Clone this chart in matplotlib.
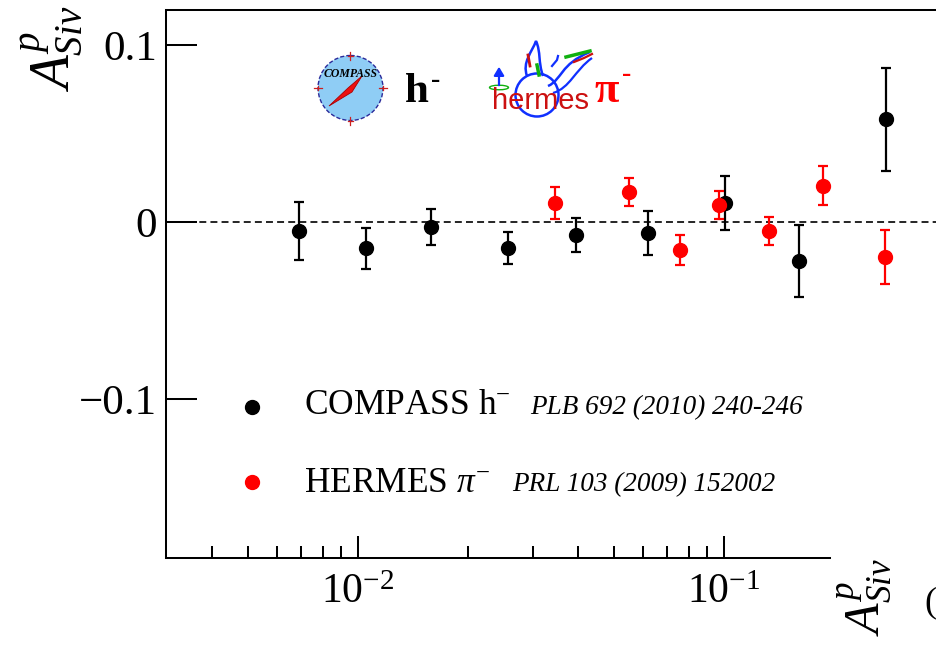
import matplotlib
matplotlib.use("Agg")
import matplotlib.pyplot as plt
from matplotlib.patches import Circle, Polygon, Ellipse, PathPatch
from matplotlib.path import Path
from matplotlib.ticker import FixedLocator, NullFormatter, LogFormatterSciNotation

plt.rcParams['font.family'] = ['Liberation Serif', 'DejaVu Serif']
plt.rcParams['mathtext.fontset'] = 'custom'
plt.rcParams['mathtext.rm'] = 'Liberation Serif'
plt.rcParams['mathtext.it'] = 'Liberation Serif:italic'
plt.rcParams['mathtext.bf'] = 'Liberation Serif:bold'
plt.rcParams['lines.scale_dashes'] = False

# Sivers asymmetry on a proton target vs x
compass_x = [0.0069, 0.0105, 0.0158, 0.0257, 0.0393, 0.0621, 0.1006, 0.1605, 0.278]
compass_y = [-0.0049, -0.0149, -0.0027, -0.0145, -0.0074, -0.0061, 0.0109, -0.0221, 0.0583]
compass_err = [0.0163, 0.0114, 0.0104, 0.0091, 0.0096, 0.0123, 0.0154, 0.0205, 0.0291]

hermes_x = [0.0345, 0.055, 0.0758, 0.0969, 0.1324, 0.1865, 0.275]
hermes_y = [0.0109, 0.0170, -0.0158, 0.0096, -0.0049, 0.0205, -0.0196]
hermes_err = [0.0091, 0.0080, 0.0086, 0.0080, 0.0078, 0.0110, 0.0152]

y_ticks = [-0.1, 0.0, 0.1]
y_tick_labels = ['\u22120.1', '0', '0.1']
x_major_ticks = [0.01, 0.1]
x_minor_ticks = [0.004, 0.005, 0.006, 0.007, 0.008, 0.009,
                 0.02, 0.03, 0.04, 0.05, 0.06, 0.07, 0.08, 0.09]

W, H = 937, 647
fig = plt.figure(figsize=(W / 100, H / 100), dpi=100)
ax = fig.add_axes([165.7 / W, 1 - 558 / H, (W - 165.7) / W, (558 - 10) / H])
ax.set_xscale('log')
ax.set_xlim(0.00298, 0.382)
ax.set_ylim(-0.190, 0.120)

for s in ax.spines.values():
    s.set_linewidth(1.45)
ax.spines['right'].set_visible(False)
ax.spines['bottom'].set_bounds(0.00298, 0.195)

ax.xaxis.set_major_locator(FixedLocator(x_major_ticks))
ax.xaxis.set_minor_locator(FixedLocator(x_minor_ticks))
ax.xaxis.set_major_formatter(LogFormatterSciNotation())
ax.xaxis.set_minor_formatter(NullFormatter())
ax.set_yticks(y_ticks)
ax.set_yticklabels(y_tick_labels)
ax.tick_params(axis='x', which='major', direction='in', length=16, width=1.45,
               labelsize=30, pad=11, top=False)
ax.tick_params(axis='x', which='minor', direction='in', length=8.6, width=1.45, top=False)
ax.tick_params(axis='y', which='major', direction='in', length=22, width=1.45,
               labelsize=31, pad=6, right=False)
ax.tick_params(axis='y', which='minor', left=False, right=False)

ax.axhline(0.0, color='black', lw=1.2, dashes=(5, 3), zorder=1)

ax.errorbar(compass_x, compass_y, yerr=compass_err, fmt='o', color='black',
            ms=10, elinewidth=1.6, capsize=3.8, capthick=1.6, zorder=3)
ax.errorbar(hermes_x, hermes_y, yerr=hermes_err, fmt='o', color='#ff0000',
            ms=10, elinewidth=1.6, capsize=3.8, capthick=1.6, zorder=4)

# y-axis title and the neighbouring panel's title at the bottom right
fig.text(52 / W, 1 - 6 / H, r'$A^{p}_{Siv}$', rotation=90, ha='center', va='top', fontsize=40)
fig.text(864 / W, 1 - 558 / H, r'$A^{p}_{Siv}$', rotation=90, ha='center', va='top', fontsize=36)
fig.text(936 / W, 1 - 603 / H, '(', ha='right', va='center', fontsize=26)

# overlay in pixel coordinates for logos and legend
ov = fig.add_axes([0, 0, 1, 1], zorder=5)
ov.set_xlim(0, W)
ov.set_ylim(H, 0)
ov.axis('off')

# COMPASS logo
ov.add_patch(Circle((350.5, 88), 32.5, facecolor='#8fcdf5', edgecolor='#2a2a9a',
                    lw=1.0, ls=(0, (3, 1.5))))
for (cx, cy, dx, dy) in [(350.5, 55.5, 0, 4), (350.5, 120.5, 0, 4),
                         (318, 88, 4, 0), (383, 88, 4, 0)]:
    ov.plot([cx - dx, cx + dx], [cy - dy, cy + dy], color='#cc2020', lw=0.9)
    ov.plot([cx - dy * 0.6, cx + dy * 0.6], [cy - dx * 0.6, cy + dx * 0.6], color='#cc2020', lw=0.9)
ov.add_patch(Polygon([(329, 106), (348, 88), (362, 76), (352, 92)],
                     closed=True, facecolor='#ee1010', edgecolor='#aa0000', lw=0.6))
ov.text(350.5, 74, 'COMPASS', ha='center', va='center', fontsize=8.5,
        fontstyle='italic', fontweight='bold', color='black')
ov.text(405, 102, 'h', ha='left', va='baseline', fontsize=31, fontweight='bold', color='black')
ov.text(436, 80, '-', ha='center', va='center', fontsize=20, fontweight='bold', color='black')

# HERMES logo
ov.add_patch(Circle((537, 95), 21.5, facecolor='none', edgecolor='#1030ff', lw=1.8))
wing_l = Path([(527, 76), (522, 62), (532, 52), (536, 41),
               (541, 52), (538, 62), (543, 76)],
              [Path.MOVETO, Path.CURVE4, Path.CURVE4, Path.CURVE4,
               Path.CURVE4, Path.CURVE4, Path.CURVE4])
ov.add_patch(PathPatch(wing_l, facecolor='none', edgecolor='#1030ff', lw=1.8))
ov.plot([528, 530], [55, 66], color='#cc1010', lw=2.0)
ov.plot([537, 539], [65, 75], color='#10b010', lw=2.5)
wing_r = Path([(548, 86), (562, 80), (560, 64), (590, 52)],
              [Path.MOVETO, Path.CURVE4, Path.CURVE4, Path.CURVE4])
ov.add_patch(PathPatch(wing_r, facecolor='none', edgecolor='#1030ff', lw=1.8))
wing_r2 = Path([(553, 93), (570, 88), (575, 70), (592, 58)],
               [Path.MOVETO, Path.CURVE4, Path.CURVE4, Path.CURVE4])
ov.add_patch(PathPatch(wing_r2, facecolor='none', edgecolor='#1030ff', lw=1.6))
ov.plot([552, 557, 558], [66, 60, 56], color='#1030ff', lw=1.6)
ov.plot([566, 578, 590], [57, 54, 51], color='#10b010', lw=2.5)
ov.plot([574, 584, 592], [62, 58, 54], color='#cc1010', lw=1.6)
ov.annotate('', xy=(499, 64), xytext=(499, 88),
            arrowprops=dict(arrowstyle='-|>,head_length=0.5,head_width=0.3',
                            color='#1030ff', lw=1.6))
ov.add_patch(Ellipse((499, 87.5), 19, 4.5, facecolor='none', edgecolor='#10b010', lw=1.0))
ov.text(541, 109, 'hermes', ha='center', va='baseline', fontsize=21,
        family='Liberation Sans', color='#cc1010')
ov.text(594, 102, '\u03c0', ha='left', va='baseline', fontsize=32,
        fontweight='bold', color='#ff0000')
ov.text(627, 74, '-', ha='center', va='center', fontsize=20, fontweight='bold', color='#ff0000')

# legend
ov.plot([252], [407], 'o', color='black', ms=10)
ov.plot([252], [482], 'o', color='#ff0000', ms=10)
ov.text(304, 406, 'COMPASS h$^{-}$', ha='left', va='center', fontsize=25.5)
ov.text(530, 408, 'PLB 692 (2010) 240-246', ha='left', va='center', fontsize=19.5,
        fontstyle='italic')
ov.text(304, 483, r'HERMES $\pi^{-}$', ha='left', va='center', fontsize=25.5)
ov.text(512, 485, 'PRL 103 (2009) 152002', ha='left', va='center', fontsize=19.5,
        fontstyle='italic')

fig.savefig('out.png', dpi=100)
